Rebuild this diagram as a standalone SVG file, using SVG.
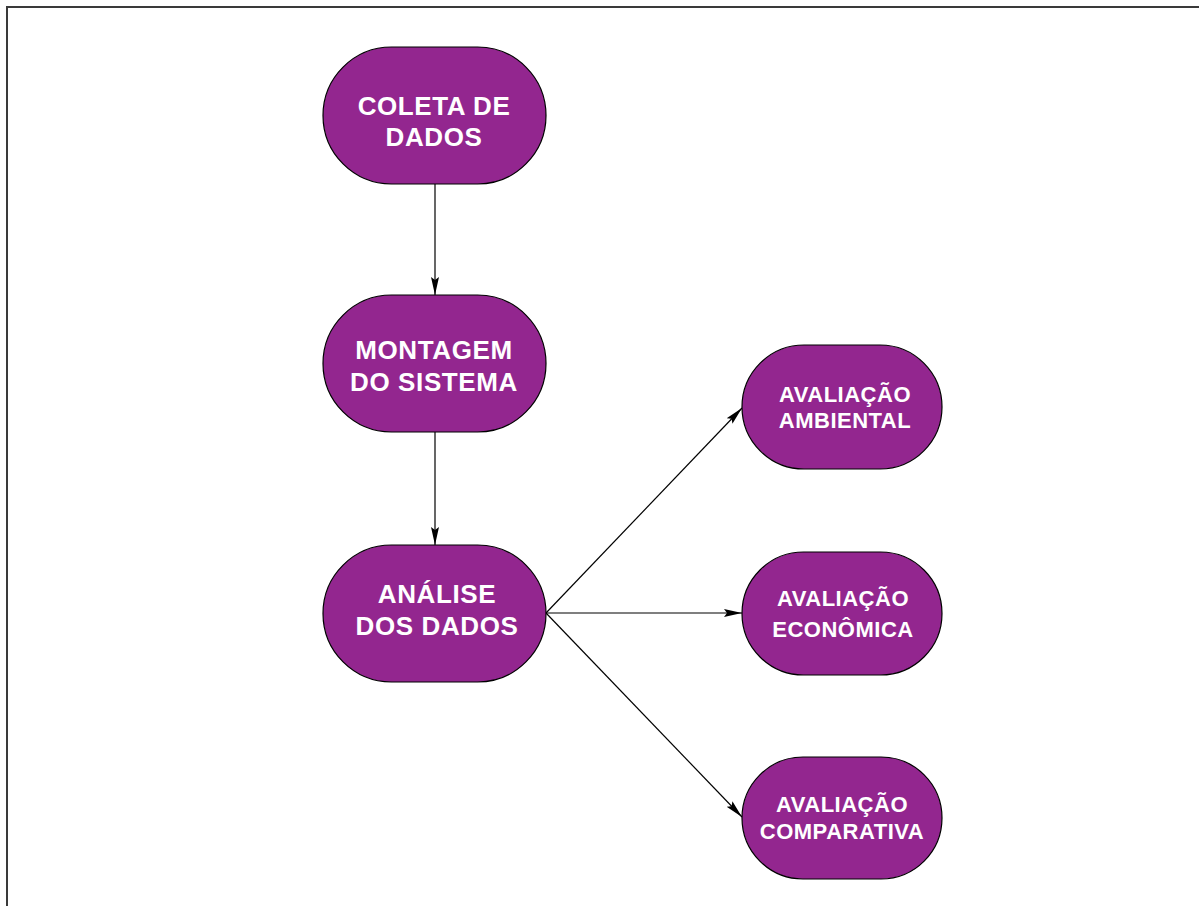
<svg xmlns="http://www.w3.org/2000/svg" width="1199" height="906" viewBox="0 0 1199 906">
<style>
.node{fill:#93268F;stroke:#000;stroke-width:1.2}
.t1{font-family:"Liberation Sans",Arial,sans-serif;font-weight:bold;font-size:26px;letter-spacing:0.6px;fill:#fff;text-anchor:middle}
.t2{font-family:"Liberation Sans",Arial,sans-serif;font-weight:bold;font-size:22px;letter-spacing:0.5px;fill:#fff;text-anchor:middle}
.edge{stroke:#000;stroke-width:1.2;fill:none;marker-end:url(#ah)}
</style>
<defs>
<marker id="ah" markerWidth="20" markerHeight="10" refX="18" refY="5" orient="auto" markerUnits="userSpaceOnUse">
<path d="M0,1 L18,5 L0,9 L3,5 Z" fill="#000"/>
</marker>
</defs>
<rect x="0" y="0" width="1199" height="906" fill="#fff"/>
<rect x="7" y="7" width="1200" height="910" fill="none" stroke="#3a3a3a" stroke-width="2"/>
<g id="connectors">
<line class="edge" x1="435" y1="184" x2="435" y2="295"/>
<line class="edge" x1="435" y1="432" x2="435" y2="545"/>
<line class="edge" x1="546" y1="613" x2="742" y2="408"/>
<line class="edge" x1="546" y1="613" x2="742" y2="613"/>
<line class="edge" x1="546" y1="613" x2="742" y2="817"/>
</g>
<g id="coleta">
<rect class="node" x="323" y="47" width="223" height="137" rx="68.5" ry="68.5"/>
<text class="t1" x="434" y="115">COLETA DE</text>
<text class="t1" x="434" y="146">DADOS</text>
</g>
<g id="montagem">
<rect class="node" x="323" y="295" width="223" height="137" rx="68.5" ry="68.5"/>
<text class="t1" x="434" y="359">MONTAGEM</text>
<text class="t1" x="434" y="391">DO SISTEMA</text>
</g>
<g id="analise">
<rect class="node" x="323" y="545" width="223" height="137" rx="68.5" ry="68.5"/>
<text class="t1" x="437" y="603">ANÁLISE</text>
<text class="t1" x="437" y="635">DOS DADOS</text>
</g>
<g id="ambiental">
<rect class="node" x="742" y="345" width="200" height="124" rx="62" ry="62"/>
<text class="t2" x="845" y="402">AVALIAÇÃO</text>
<text class="t2" x="845" y="428">AMBIENTAL</text>
</g>
<g id="economica">
<rect class="node" x="742" y="552" width="200" height="123" rx="61.5" ry="61.5"/>
<text class="t2" x="843" y="606">AVALIAÇÃO</text>
<text class="t2" x="843" y="637">ECONÔMICA</text>
</g>
<g id="comparativa">
<rect class="node" x="742" y="757" width="200" height="122" rx="61" ry="61"/>
<text class="t2" x="842" y="812">AVALIAÇÃO</text>
<text class="t2" x="842" y="839">COMPARATIVA</text>
</g>
</svg>
